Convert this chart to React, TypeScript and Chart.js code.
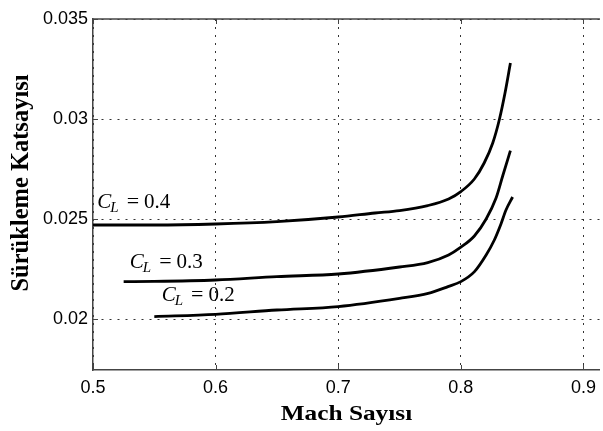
import React, { useEffect, useRef } from 'react';
import { Chart, registerables } from 'chart.js';

Chart.register(...registerables);

// Mach number / drag coefficient for each lift coefficient
const machCL04 = [0.5, 0.55, 0.6, 0.65, 0.7, 0.73, 0.75, 0.773, 0.79, 0.8, 0.811, 0.819, 0.826, 0.8315, 0.836, 0.8404];
const cdCL04 = [0.0247, 0.0247, 0.02475, 0.02487, 0.0251, 0.0253, 0.02542, 0.02567, 0.026, 0.02637, 0.027, 0.0278, 0.0288, 0.03, 0.0313, 0.0328];

const machCL03 = [0.525, 0.55, 0.6, 0.65, 0.7, 0.75, 0.773, 0.79, 0.8, 0.811, 0.8206, 0.8287, 0.8341, 0.8404];
const cdCL03 = [0.02187, 0.02188, 0.02195, 0.02212, 0.02225, 0.0226, 0.02282, 0.0232, 0.02359, 0.02415, 0.025, 0.02605, 0.02715, 0.02842];

const machCL02 = [0.55, 0.6, 0.65, 0.7, 0.75, 0.7733, 0.7895, 0.8, 0.8111, 0.8206, 0.8273, 0.8327, 0.8368, 0.8422];
const cdCL02 = [0.02012, 0.02023, 0.02045, 0.02062, 0.02103, 0.02128, 0.02162, 0.02187, 0.02237, 0.0232, 0.02395, 0.02475, 0.02545, 0.0261];

const xTicks = [0.5, 0.6, 0.7, 0.8, 0.9];
const yTicks = [0.02, 0.025, 0.03, 0.035];

const curveLabels = ['0.4', '0.3', '0.2'];
const labelMach = [0.5035, 0.53, 0.556];
const labelCd = [0.02555, 0.02255, 0.0209];

const xTitle = 'Mach Sayısı';
const yTitle = 'Sürükleme Katsayısı';

const SERIF = '"Liberation Serif", "Times New Roman", serif';
const SANS = '"Liberation Sans", Arial, sans-serif';

const framePlugin = {
  id: 'frame',
  afterDraw(chart: any) {
    const { ctx, chartArea: a, scales } = chart;
    const xs = scales.x;
    const ys = scales.y;
    ctx.save();
    // top border
    ctx.strokeStyle = '#444';
    ctx.lineWidth = 1.5;
    ctx.beginPath();
    ctx.moveTo(a.left, a.top);
    ctx.lineTo(a.right, a.top);
    ctx.stroke();
    // inward tick marks
    ctx.lineWidth = 1;
    ctx.beginPath();
    xTicks.forEach((v) => {
      const px = Math.round(xs.getPixelForValue(v)) + 0.5;
      ctx.moveTo(px, a.bottom);
      ctx.lineTo(px, a.bottom - 5);
      ctx.moveTo(px, a.top);
      ctx.lineTo(px, a.top + 5);
    });
    yTicks.forEach((v) => {
      const py = Math.round(ys.getPixelForValue(v)) + 0.5;
      ctx.moveTo(a.left, py);
      ctx.lineTo(a.left + 5, py);
    });
    ctx.stroke();

    // curve labels  C_L = value
    ctx.fillStyle = '#000';
    ctx.textBaseline = 'alphabetic';
    ctx.textAlign = 'left';
    curveLabels.forEach((lab, i) => {
      let cx = xs.getPixelForValue(labelMach[i]);
      const cy = ys.getPixelForValue(labelCd[i]);
      ctx.font = 'italic 21px ' + SERIF;
      ctx.fillText('C', cx, cy);
      cx += ctx.measureText('C').width;
      ctx.font = 'italic 15px ' + SERIF;
      ctx.fillText('L', cx - 1, cy + 4);
      cx += ctx.measureText('L').width + 7;
      ctx.font = '22px ' + SERIF;
      ctx.fillText('=', cx, cy);
      cx += ctx.measureText('=').width + 5;
      ctx.font = '21px ' + SERIF;
      ctx.fillText(lab, cx, cy);
    });

    // axis titles
    ctx.font = 'bold 22px ' + SERIF;
    ctx.textAlign = 'center';
    ctx.save();
    ctx.translate((a.left + a.right) / 2, a.bottom + 50);
    ctx.scale(1.15, 1);
    ctx.fillText(xTitle, 0, 0);
    ctx.restore();

    ctx.save();
    ctx.font = 'bold 24.5px ' + SERIF;
    ctx.translate(a.left - 65, a.top + 164);
    ctx.rotate(-Math.PI / 2);
    ctx.fillText(yTitle, 0, 0);
    ctx.restore();

    ctx.restore();
  },
};

const toPts = (xs: number[], ys: number[]) => xs.map((x, i) => ({ x, y: ys[i] }));

export default function App() {
  const ref = useRef<HTMLCanvasElement | null>(null);
  useEffect(() => {
    if (!ref.current) return;
    const lineStyle = {
      borderColor: '#000',
      borderWidth: 2.8,
      pointRadius: 0,
      fill: false,
      cubicInterpolationMode: 'monotone' as const,
    };
    const chart = new Chart(ref.current, {
      type: 'line',
      data: {
        datasets: [
          { label: 'CL=0.4', data: toPts(machCL04, cdCL04), ...lineStyle },
          { label: 'CL=0.3', data: toPts(machCL03, cdCL03), ...lineStyle },
          { label: 'CL=0.2', data: toPts(machCL02, cdCL02), ...lineStyle },
        ],
      },
      options: {
        animation: false,
        responsive: false,
        events: [],
        layout: { padding: { top: 19, right: 0, left: 0, bottom: 0 } },
        plugins: { legend: { display: false }, tooltip: { enabled: false } },
        scales: {
          x: {
            type: 'linear',
            min: 0.5,
            max: 0.9134,
            afterBuildTicks: (s: any) => {
              s.ticks = xTicks.map((v) => ({ value: v }));
            },
            afterFit: (s: any) => {
              s.height = 61;
            },
            ticks: {
              color: '#000',
              font: { family: SANS, size: 18 },
              padding: 7,
              maxRotation: 0,
              callback: (v: any) => String(v),
            },
            grid: { color: '#333', lineWidth: 1, drawTicks: false },
            border: { display: true, color: '#444', width: 1.5, dash: [2, 6] },
          },
          y: {
            type: 'linear',
            min: 0.01745,
            max: 0.035,
            afterBuildTicks: (s: any) => {
              s.ticks = yTicks.map((v) => ({ value: v }));
            },
            afterFit: (s: any) => {
              s.width = 93;
            },
            ticks: {
              color: '#000',
              font: { family: SANS, size: 18 },
              padding: 5,
              callback: (v: any) => String(v),
            },
            grid: { color: '#333', lineWidth: 1, drawTicks: false },
            border: { display: true, color: '#444', width: 1.5, dash: [2, 6] },
          },
        },
      },
      plugins: [framePlugin],
    });
    return () => chart.destroy();
  }, []);
  return (
    <div style={{ position: 'absolute', left: 0, top: 0, width: 603, height: 431, background: '#fff' }}>
      <canvas ref={ref} width={603} height={431} style={{ display: 'block' }} />
    </div>
  );
}
